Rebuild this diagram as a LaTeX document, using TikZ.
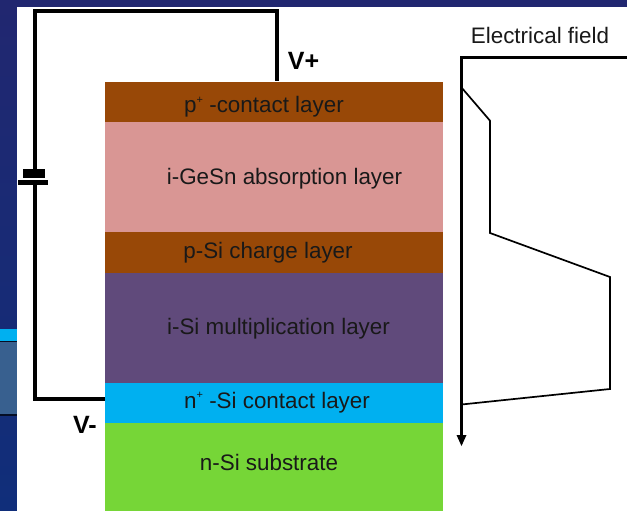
\documentclass[tikz,border=0pt]{standalone}
\usepackage{fontspec}
\setmainfont{Liberation Sans}
\definecolor{brownL}{HTML}{984807}
\definecolor{pinkL}{HTML}{D99694}
\definecolor{purpleL}{HTML}{604A7B}
\definecolor{cyanL}{HTML}{00B0F0}
\definecolor{greenL}{HTML}{76D637}
\definecolor{navyA}{HTML}{212770}
\definecolor{navyB}{HTML}{102E7A}
\definecolor{steelL}{HTML}{38608F}
\newcommand{\supplus}{\raisebox{0.42em}{\fontsize{11}{11}\selectfont +}}
\tikzset{
  x=1pt,y=-1pt,
  layer/.style={rectangle,draw=none,inner sep=0pt,outer sep=0pt,minimum width=338pt,anchor=north west},
  lbl/.style={font=\fontsize{22.4}{24}\selectfont,inner sep=0pt,text=black!90},
  volt/.style={font=\fontsize{25}{27}\selectfont\bfseries,inner sep=0pt},
  wire/.style={draw=black,line width=3.7pt,line join=miter},
  plate/.style={fill=black,draw=none,inner sep=0pt,outer sep=0pt},
  fieldline/.style={draw=black,line width=1.7pt,line join=miter},
  axisline/.style={draw=black,line width=3.2pt,line join=miter},
}
\begin{document}
\begin{tikzpicture}
\useasboundingbox (0,0) rectangle (627,511);
% slide background
\fill[top color=navyA,bottom color=navyB] (0,0) rectangle (627,511);
\fill[cyanL] (0,329) rectangle (17,341);
\fill[steelL] (0,341) rectangle (17,414);
\fill[black!70!navyB] (0,341) rectangle (17,342);
\fill[black!70!navyB] (0,414) rectangle (17,416);
\fill[white] (17,7) rectangle (627,511);
% layers
\node[layer,fill=brownL,minimum height=40pt] (pc) at (105,82) {};
\node[layer,fill=pinkL,minimum height=110pt] (ab) at (105,122) {};
\node[layer,fill=brownL,minimum height=41pt] (ch) at (105,232) {};
\node[layer,fill=purpleL,minimum height=110pt] (mu) at (105,273) {};
\node[layer,fill=cyanL,minimum height=40pt] (nc) at (105,383) {};
\node[layer,fill=greenL,minimum height=88pt] (su) at (105,423) {};
% layer labels
\node[lbl] (t1) at (264,107) {p\supplus\ -contact layer};
\node[lbl] (t2) at (284.5,178.5) {i-GeSn absorption layer};
\node[lbl] (t3) at (268,252.5) {p-Si charge layer};
\node[lbl] (t4) at (278.5,328.5) {i-Si multiplication layer};
\node[lbl] (t5) at (277,402.5) {n\supplus\ -Si contact layer};
\node[lbl] (t6) at (269,462.5) {n-Si substrate};
\node[lbl] (t7) at (540,35) {Electrical field};
\node[volt] (vp) at (303.5,61) {V+};
\node[volt] (vm) at (85,425) {V-};
% battery
\node[plate,minimum width=22pt,minimum height=8.7pt] (b1) at (33.7,173.3) {};
\node[plate,minimum width=30pt,minimum height=5pt] (b2) at (33,182.5) {};
% circuit
\coordinate (tl) at (34.7,10.7);
\coordinate (tr) at (276.7,10.7);
\coordinate (bl) at (34.7,399.3);
\coordinate (nt) at (105,399.3);
\coordinate (pt) at (276.7,81);
\draw[wire] (pt) -- (tr) -- (tl) -- (b1.north -| tl);
\draw[wire] (b2.south -| bl) -- (bl) -- (nt);
% field plot
\coordinate (o) at (461.5,57.5);
\coordinate (e) at (627,57.5);
\coordinate (a) at (461.5,438);
\coordinate (tip) at (461.5,446);
\coordinate (f1) at (461.5,87.5);
\coordinate (f2) at (490,120.7);
\coordinate (f3) at (490,233);
\coordinate (f4) at (610,277);
\coordinate (f5) at (610,389);
\coordinate (f6) at (461.5,404.5);
\draw[fieldline] (f1) -- (f2) -- (f3) -- (f4) -- (f5) -- (f6);
\draw[axisline] (e) -- (o) -- (a);
\fill[black] (tip) ++(-5,-11) -- ++(10,0) -- (tip) -- cycle;
\end{tikzpicture}
\end{document}
